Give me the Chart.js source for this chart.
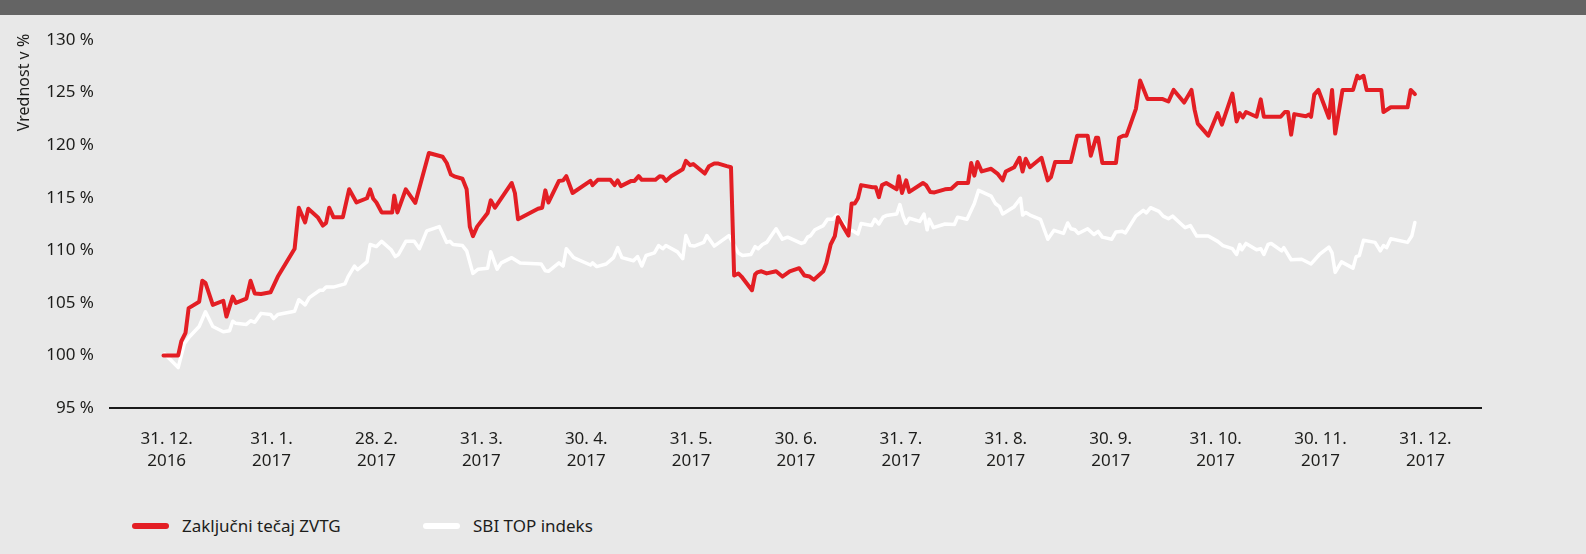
<!DOCTYPE html>
<html>
<head>
<meta charset="utf-8">
<script src="https://cdn.jsdelivr.net/npm/chart.js@4.4.1/dist/chart.umd.min.js"></script>
<style>
  html, body { margin:0; padding:0; background:#e8e8e8; width:1586px; height:554px; overflow:hidden; }
  #top { position:absolute; left:0; top:0; width:1586px; height:15px; background:#646464; }
  #graf { position:absolute; left:0; top:0; }
  .leg { position:absolute; top:514px; font:17px "Noto Sans", sans-serif; color:#1d1d1b; display:flex; align-items:center; }
  .leg i { display:inline-block; width:37px; height:6px; border-radius:3px; margin-right:13px; }
</style>
</head>
<body>
<canvas id="graf" width="1586" height="480"></canvas>
<div id="top"></div>
<div class="leg" style="left:132px"><i style="background:#e31e24"></i>Zaključni tečaj ZVTG</div>
<div class="leg" style="left:423px"><i style="background:#ffffff"></i>SBI TOP indeks</div>

<script>
// ── oznake osi x (konci mesecev) ──
const mesci = [
  ['31. 12.','2016'], ['31. 1.','2017'], ['28. 2.','2017'], ['31. 3.','2017'],
  ['30. 4.','2017'], ['31. 5.','2017'], ['30. 6.','2017'], ['31. 7.','2017'],
  ['31. 8.','2017'], ['30. 9.','2017'], ['31. 10.','2017'], ['30. 11.','2017'],
  ['31. 12.','2017']
];
const yTicks = [95, 100, 105, 110, 115, 120, 125, 130];

// ── Zaključni tečaj ZVTG (x = mesec od 31. 12. 2016, y = %) ──
const zvtgX = [-0.03,0.11,0.14,0.18,0.21,0.31,0.34,0.37,0.44,0.54,0.57,0.63,0.66,0.76,0.80,0.84,0.90,0.99,1.06,1.22,
  1.26,1.32,1.35,1.44,1.49,1.52,1.55,1.59,1.68,1.74,1.81,1.91,1.94,1.97,2.00,2.05,2.15,2.17,2.20,2.28,
  2.37,2.50,2.63,2.67,2.71,2.75,2.82,2.86,2.89,2.92,2.96,3.06,3.09,3.13,3.29,3.32,3.35,3.54,3.58,3.61,
  3.64,3.74,3.78,3.81,3.87,4.04,4.06,4.11,4.23,4.27,4.30,4.33,4.43,4.46,4.50,4.53,4.66,4.70,4.73,4.76,
  4.81,4.92,4.95,4.99,5.02,5.13,5.17,5.22,5.26,5.34,5.38,5.41,5.45,5.48,5.58,5.61,5.63,5.67,5.72,5.81,
  5.87,5.94,6.03,6.08,6.13,6.17,6.26,6.29,6.33,6.37,6.40,6.45,6.50,6.53,6.56,6.59,6.62,6.73,6.76,6.79,
  6.82,6.86,6.96,6.98,7.01,7.05,7.08,7.21,7.24,7.28,7.32,7.42,7.48,7.54,7.64,7.67,7.70,7.73,7.77,7.86,
  7.92,7.97,8.00,8.08,8.13,8.16,8.19,8.23,8.34,8.37,8.40,8.43,8.47,8.62,8.68,8.78,8.81,8.86,8.88,8.92,
  9.05,9.08,9.12,9.15,9.24,9.28,9.35,9.49,9.55,9.60,9.70,9.77,9.80,9.83,9.93,10.02,10.06,10.16,10.20,10.23,
  10.26,10.29,10.39,10.43,10.46,10.62,10.66,10.69,10.72,10.75,10.86,10.89,10.91,10.94,10.98,11.08,11.11,11.14,11.21,11.31,
  11.35,11.37,11.41,11.44,11.58,11.60,11.67,11.83,11.86,11.90];
const zvtgY = [100.0,100.0,101.35,102.15,104.5,105.1,107.1,106.9,104.8,105.2,103.7,105.6,105.0,105.4,107.1,105.9,105.85,106.0,107.5,110.15,
  114.05,112.65,113.95,113.15,112.35,112.6,114.05,113.15,113.15,115.8,114.55,114.95,115.8,114.9,114.55,113.6,113.6,115.2,113.6,115.8,
  114.5,119.25,118.9,118.3,117.2,117.0,116.8,115.8,112.25,111.35,112.25,113.55,114.75,114.05,116.4,115.45,112.95,113.95,114.05,115.7,
  114.55,116.6,116.65,117.05,115.45,116.6,116.2,116.7,116.7,116.2,116.65,116.1,116.6,116.6,117.05,116.7,116.7,117.05,117.0,116.6,
  117.05,117.7,118.5,118.1,118.2,117.3,118.0,118.25,118.25,118.0,117.9,107.6,107.8,107.5,106.2,107.7,107.9,108.0,107.8,108.0,
  107.5,108.0,108.3,107.6,107.5,107.2,108.0,108.8,110.55,111.35,113.15,112.25,111.4,114.45,114.45,114.95,116.2,116.0,116.0,115.05,
  116.2,116.4,115.8,117.05,115.45,116.65,115.55,116.4,116.2,115.55,115.5,115.8,115.85,116.4,116.4,118.3,117.1,118.4,117.5,117.75,
  117.3,116.65,117.5,117.9,118.8,117.5,118.7,117.9,118.8,117.7,116.65,116.95,118.4,118.4,120.9,120.9,119.0,120.7,120.7,118.3,
  118.3,120.7,120.9,120.9,123.45,126.15,124.4,124.4,124.15,125.25,124.05,125.25,123.35,122.05,120.9,123.05,121.95,124.9,122.25,123.05,
  122.65,123.15,122.7,124.35,122.7,122.7,123.15,123.15,121.0,122.95,122.75,122.9,122.7,124.8,125.25,122.6,125.25,121.1,125.25,125.25,
  126.6,126.35,126.6,125.25,125.25,123.15,123.6,123.6,125.25,124.85];

// ── SBI TOP indeks ──
const sbiX = [-0.02,0.11,0.17,0.22,0.31,0.37,0.44,0.54,0.60,0.63,0.66,0.76,0.80,0.84,0.90,0.99,1.02,1.06,1.22,1.26,
  1.32,1.36,1.46,1.49,1.52,1.59,1.70,1.73,1.79,1.82,1.91,1.94,2.00,2.05,2.14,2.18,2.21,2.28,2.36,2.41,
  2.48,2.60,2.67,2.70,2.73,2.82,2.86,2.92,2.97,3.06,3.09,3.15,3.19,3.29,3.37,3.57,3.61,3.64,3.74,3.78,
  3.81,3.88,4.04,4.06,4.10,4.19,4.26,4.30,4.34,4.45,4.49,4.53,4.57,4.65,4.69,4.73,4.76,4.87,4.92,4.95,
  4.99,5.03,5.12,5.15,5.22,5.36,5.45,5.49,5.57,5.61,5.64,5.68,5.72,5.81,5.87,5.92,6.05,6.08,6.11,6.14,
  6.18,6.26,6.30,6.35,6.39,6.46,6.49,6.54,6.59,6.62,6.72,6.75,6.79,6.83,6.86,6.96,6.99,7.02,7.05,7.08,
  7.18,7.22,7.25,7.27,7.31,7.42,7.51,7.54,7.63,7.70,7.74,7.86,7.90,7.94,7.97,8.08,8.14,8.16,8.19,8.23,
  8.33,8.40,8.46,8.55,8.59,8.62,8.66,8.69,8.78,8.84,8.88,8.92,9.01,9.05,9.11,9.14,9.24,9.31,9.34,9.38,
  9.46,9.50,9.55,9.59,9.66,9.71,9.76,9.82,9.93,10.02,10.07,10.16,10.20,10.23,10.25,10.29,10.39,10.43,10.46,10.50,
  10.53,10.63,10.65,10.72,10.82,10.91,10.99,11.08,11.11,11.14,11.20,11.31,11.34,11.37,11.41,11.52,11.57,11.60,11.63,11.67,
  11.83,11.87,11.90];
const sbiY = [100.15,98.85,101.15,101.8,102.75,104.15,102.75,102.25,102.35,103.25,103.05,102.95,103.3,103.15,104.0,103.9,103.5,103.9,104.2,105.3,
  104.8,105.5,106.2,106.2,106.5,106.5,106.8,107.5,108.5,108.15,108.9,110.55,110.35,110.85,110.05,109.4,109.6,110.85,110.85,110.15,
  111.85,112.25,110.75,110.85,110.55,110.45,109.95,107.8,108.2,108.3,109.85,108.2,108.8,109.3,108.8,108.7,108.05,108.0,108.8,108.5,
  110.15,109.3,108.6,108.8,108.45,108.7,109.3,110.25,109.3,109.0,109.4,108.5,109.5,109.75,110.45,110.15,110.45,109.85,109.2,111.4,
  110.45,110.4,110.75,111.4,110.4,111.4,109.75,109.5,109.6,110.35,110.15,110.55,110.75,112.05,111.05,111.25,110.65,110.75,111.25,111.4,
  111.95,112.35,112.95,112.95,113.35,112.45,111.95,111.85,111.55,112.55,112.35,112.95,112.5,113.15,113.3,113.45,114.35,113.25,112.55,113.05,
  112.75,113.45,111.95,112.95,112.15,112.5,112.45,113.15,112.95,114.45,115.7,115.15,114.45,114.15,113.45,114.15,114.95,113.35,113.6,113.35,
  112.95,111.05,111.9,111.6,112.6,112.05,111.95,111.6,112.05,111.5,111.8,111.25,111.05,111.75,111.8,111.65,113.25,113.8,113.55,114.05,
  113.7,113.25,113.0,113.25,112.6,112.15,112.35,111.35,111.35,110.85,110.45,110.15,109.6,110.55,110.05,110.65,110.05,110.15,109.6,110.55,
  110.65,109.95,110.25,109.1,109.15,108.7,109.6,110.3,109.75,107.9,108.9,108.3,109.4,109.5,110.95,110.75,109.95,110.45,110.25,111.1,
  110.75,111.35,112.65];

const RDECA = '#e31e24', BELA = '#ffffff', TEKST = '#1d1d1b';
const FONT = '"Noto Sans", sans-serif';

const tocke = (xs, ys) => xs.map((x, i) => ({ x, y: ys[i] }));

// naslov osi y je v originalu poravnan na vrh, zato ga rišemo sami
const naslovY = {
  id: 'naslovY',
  afterDraw(chart) {
    const c = chart.ctx;
    c.save();
    c.translate(24, 82.5);
    c.rotate(-Math.PI / 2);
    c.font = '16px ' + FONT;
    c.fillStyle = TEKST;
    c.textAlign = 'center';
    c.textBaseline = 'middle';
    c.fillText('Vrednost v %', 0, 0);
    c.restore();
  }
};

new Chart(document.getElementById('graf'), {
  type: 'line',
  data: {
    datasets: [
      { label: 'Zaključni tečaj ZVTG', data: tocke(zvtgX, zvtgY), borderColor: RDECA, borderWidth: 4,
        pointRadius: 0, tension: 0, borderJoinStyle: 'round', borderCapStyle: 'round' },
      { label: 'SBI TOP indeks', data: tocke(sbiX, sbiY), borderColor: BELA, borderWidth: 3.5,
        pointRadius: 0, tension: 0, borderJoinStyle: 'round', borderCapStyle: 'round' }
    ]
  },
  options: {
    responsive: false, animation: false, devicePixelRatio: 1,
    layout: { padding: { top: 40, right: 105, left: 0, bottom: 0 } },
    plugins: { legend: { display: false }, tooltip: { enabled: false } },
    scales: {
      x: {
        type: 'linear', min: -0.54, max: 12.53,
        afterBuildTicks: s => { s.ticks = mesci.map((_, i) => ({ value: i })); },
        afterFit: s => { s.height = 72; },
        grid: { display: false, drawTicks: false },
        border: { display: true, color: '#1a1a1a', width: 2 },
        ticks: { color: TEKST, padding: 20, maxRotation: 0, autoSkip: false,
          font: { family: FONT, size: 17, lineHeight: 1.3 },
          callback: v => mesci[v] }
      },
      y: {
        min: 95, max: 130,
        afterBuildTicks: s => { s.ticks = yTicks.map(v => ({ value: v })); },
        afterFit: s => { s.width = 110; },
        grid: { display: false, drawTicks: false },
        border: { display: false },
        ticks: { color: TEKST, padding: 16, font: { family: FONT, size: 17 },
          callback: v => v + ' %' }
      }
    }
  },
  plugins: [naslovY]
});
</script>
</body>
</html>
